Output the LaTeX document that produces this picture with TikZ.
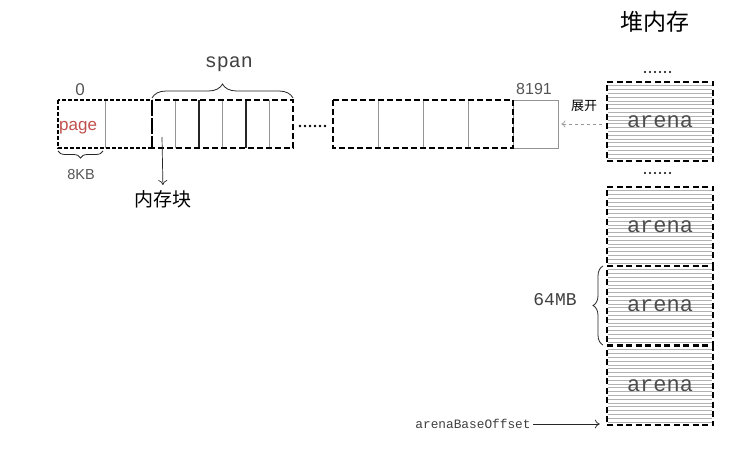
\documentclass[tikz,border=0pt]{standalone}
\usepackage{fontspec}
\setmainfont{Liberation Sans}
\setmonofont{Liberation Mono}
\newfontfamily\cjk{Noto Sans CJK SC}
\usetikzlibrary{arrows.meta,decorations.pathreplacing}
\definecolor{txtgray}{HTML}{555555}
\definecolor{pagered}{HTML}{C0504D}
\begin{document}
\begin{tikzpicture}[x=1pt,y=-1pt,
  cellline/.style={draw=gray!85,line width=0.8pt},
  thickdiv/.style={draw=black!85,line width=1.1pt},
  ldash/.style={draw=black,line width=1.6pt,dash pattern=on 4pt off 2pt},
  bdash/.style={draw=black,line width=2.2pt,dash pattern=on 6pt off 3pt},
  arenabox/.style={draw=black,line width=2.5pt,dash pattern=on 6pt off 3.5pt,minimum width=106pt,minimum height=79pt,inner sep=0pt,font=\ttfamily\fontsize{22}{22}\selectfont,text=black!70},
  cellbox/.style={cellline,rectangle,minimum width=45pt,minimum height=48pt,inner sep=0pt},
  hatch/.style={draw=gray!60,line width=0.8pt},
  lbl/.style={font=\fontsize{#1}{#1}\selectfont,text=txtgray,inner sep=0pt},
  monolbl/.style={font=\ttfamily\fontsize{#1}{#1}\selectfont,text=black!75,inner sep=0pt},
  cjklbl/.style={font=\cjk\fontsize{#1}{#1}\selectfont,text=black,inner sep=0pt},
  brc/.style={draw=black!85,line width=0.8pt,decorate,decoration={brace,amplitude=#1}},
  arr/.style={-{To[length=5pt,width=9pt]},line width=0.7pt,draw=black!85},
  dasharr/.style={-{To[length=4pt,width=7pt]},line width=0.7pt,draw=gray!80,dashed},
]
\useasboundingbox (0,0) rectangle (752,449);

% ---------- top row: pages ----------
\draw[cellline] (105,100) -- (105,148);
\foreach \x in {175.5,222.5,269.5} \draw[cellline] (\x,100) -- (\x,148);
\foreach \x in {199,246} \draw[thickdiv] (\x,100) -- (\x,148);
\draw[ldash] (58,100) rectangle (152,148);
\draw[bdash] (152,100) rectangle (293,148);

\foreach \x in {300,305,...,326} \fill[black] (\x,126) circle (1.3pt);

\foreach \x in {378,423,468} \draw[cellline] (\x,100) -- (\x,148);
\node[cellbox] (last) at (535.5,124) {};
\draw[bdash] (333,100) rectangle (513,148);

% labels of the row
\node[lbl=17,anchor=base] (zero) at (80,96) {0};
\node[lbl=16,anchor=base] (n8191) at (534,95) {8191};
\node[lbl=17,anchor=base west,text=pagered] (page) at (59,131) {page};
\node[lbl=14.5,anchor=base] (kb) at (81,180) {8KB};
\node[monolbl=20,anchor=base] (span) at (229,68) {span};
\node[cjklbl=19] (blk) at (163,199) {内存块};

\draw[brc=14pt] (152,98) -- (293,98);
\draw[brc=7pt] (103,151) -- (58,151);

\coordinate (blkfrom) at (162,137);
\draw[arr] (blkfrom) -- (blk.north) [shorten >=5pt];

% ---------- heap ----------
\node[cjklbl=23] (heap) at (655,22) {堆内存};

\foreach \cy in {121.5,226.5,305.5,385.5}{
  \foreach \k in {1,...,20}
    \draw[hatch] (608,\cy-39.5+\k*3.8) -- (712,\cy-39.5+\k*3.8);
}
\node[arenabox] (a1) at (660,121.5) {arena};
\node[arenabox] (a2) at (660,226.5) {arena};
\node[arenabox] (a3) at (660,305.5) {arena};
\node[arenabox] (a4) at (660,385.5) {arena};

\foreach \x in {645,650,...,671} {
  \fill[black] (\x,72) circle (1.1pt);
  \fill[black] (\x,173) circle (1.1pt);
}

\node[cjklbl=13] (expand) at (584,106) {展开};
\draw[dasharr] (last.east -| a1.west) -- (last.east) [shorten <=4pt, shorten >=3pt];

\draw[brc=10pt] (603,345) -- (603,266);
\node[monolbl=18] (mb) at (555,300) {64MB};

\node[monolbl=12.8] (abo) at (473,424) {arenaBaseOffset};
\draw[arr] (abo.east) -- (abo.east -| a4.west) [shorten <=2pt, shorten >=6pt];
\end{tikzpicture}
\end{document}
